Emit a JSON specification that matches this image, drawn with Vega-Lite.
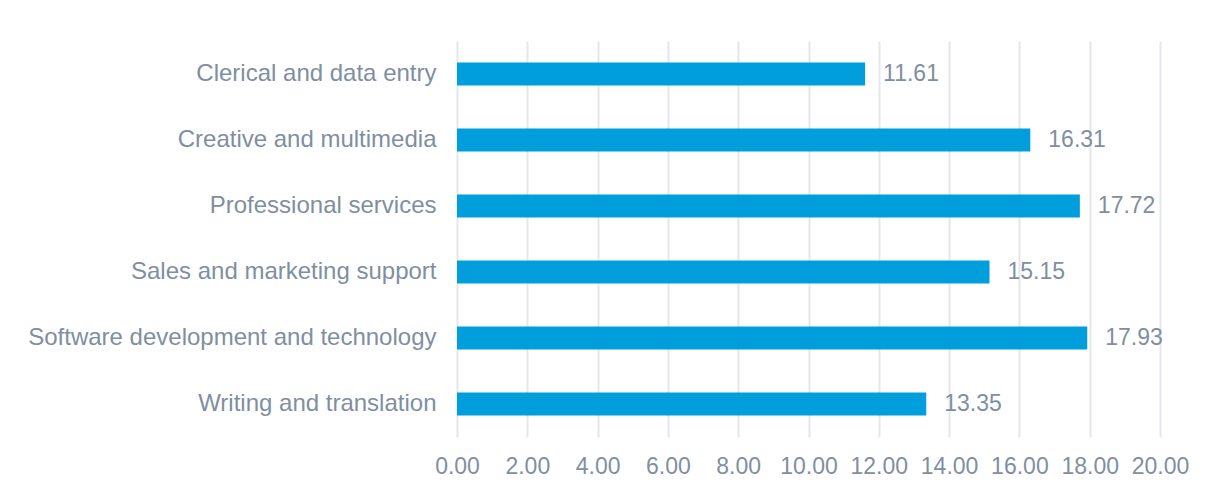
{
  "$schema": "https://vega.github.io/schema/vega-lite/v6.json",
  "width": 703,
  "height": 396,
  "autosize": {"type": "none"},
  "padding": {"left": 457, "top": 41, "right": 49, "bottom": 49},
  "background": "white",
  "config": {
    "view": {"stroke": null},
    "font": "Liberation Sans"
  },
  "data": {
    "values": [
      {"category": "Clerical and data entry", "value": 11.61},
      {"category": "Creative and multimedia", "value": 16.31},
      {"category": "Professional services", "value": 17.72},
      {"category": "Sales and marketing support", "value": 15.15},
      {"category": "Software development and technology", "value": 17.93},
      {"category": "Writing and translation", "value": 13.35}
    ]
  },
  "encoding": {
    "y": {
      "field": "category",
      "type": "nominal",
      "sort": null,
      "title": null,
      "scale": {"paddingInner": 0.65, "paddingOuter": 0.325},
      "axis": {
        "ticks": false,
        "domain": false,
        "labelFontSize": 24,
        "labelColor": "#7F8FA1",
        "labelPadding": 21,
        "labelLimit": 600,
        "labelFont": "Liberation Sans"
      }
    },
    "x": {
      "field": "value",
      "type": "quantitative",
      "title": null,
      "scale": {"domain": [0, 20], "nice": false},
      "axis": {
        "values": [0, 2, 4, 6, 8, 10, 12, 14, 16, 18, 20],
        "format": ".2f",
        "ticks": false,
        "domain": false,
        "grid": true,
        "gridColor": "#E3E7EC",
        "gridWidth": 2,
        "labelFontSize": 23,
        "labelColor": "#7F8FA1",
        "labelPadding": 18,
        "labelFont": "Liberation Sans",
        "labelFlush": false,
        "labelOverlap": false
      }
    }
  },
  "layer": [
    {"mark": {"type": "bar", "color": "#009EDD"}},
    {
      "mark": {
        "type": "text",
        "align": "left",
        "baseline": "middle",
        "dx": 18,
        "fontSize": 23,
        "color": "#7F8FA1",
        "font": "Liberation Sans"
      },
      "encoding": {
        "text": {"field": "value", "type": "quantitative", "format": ".2f"}
      }
    }
  ]
}
